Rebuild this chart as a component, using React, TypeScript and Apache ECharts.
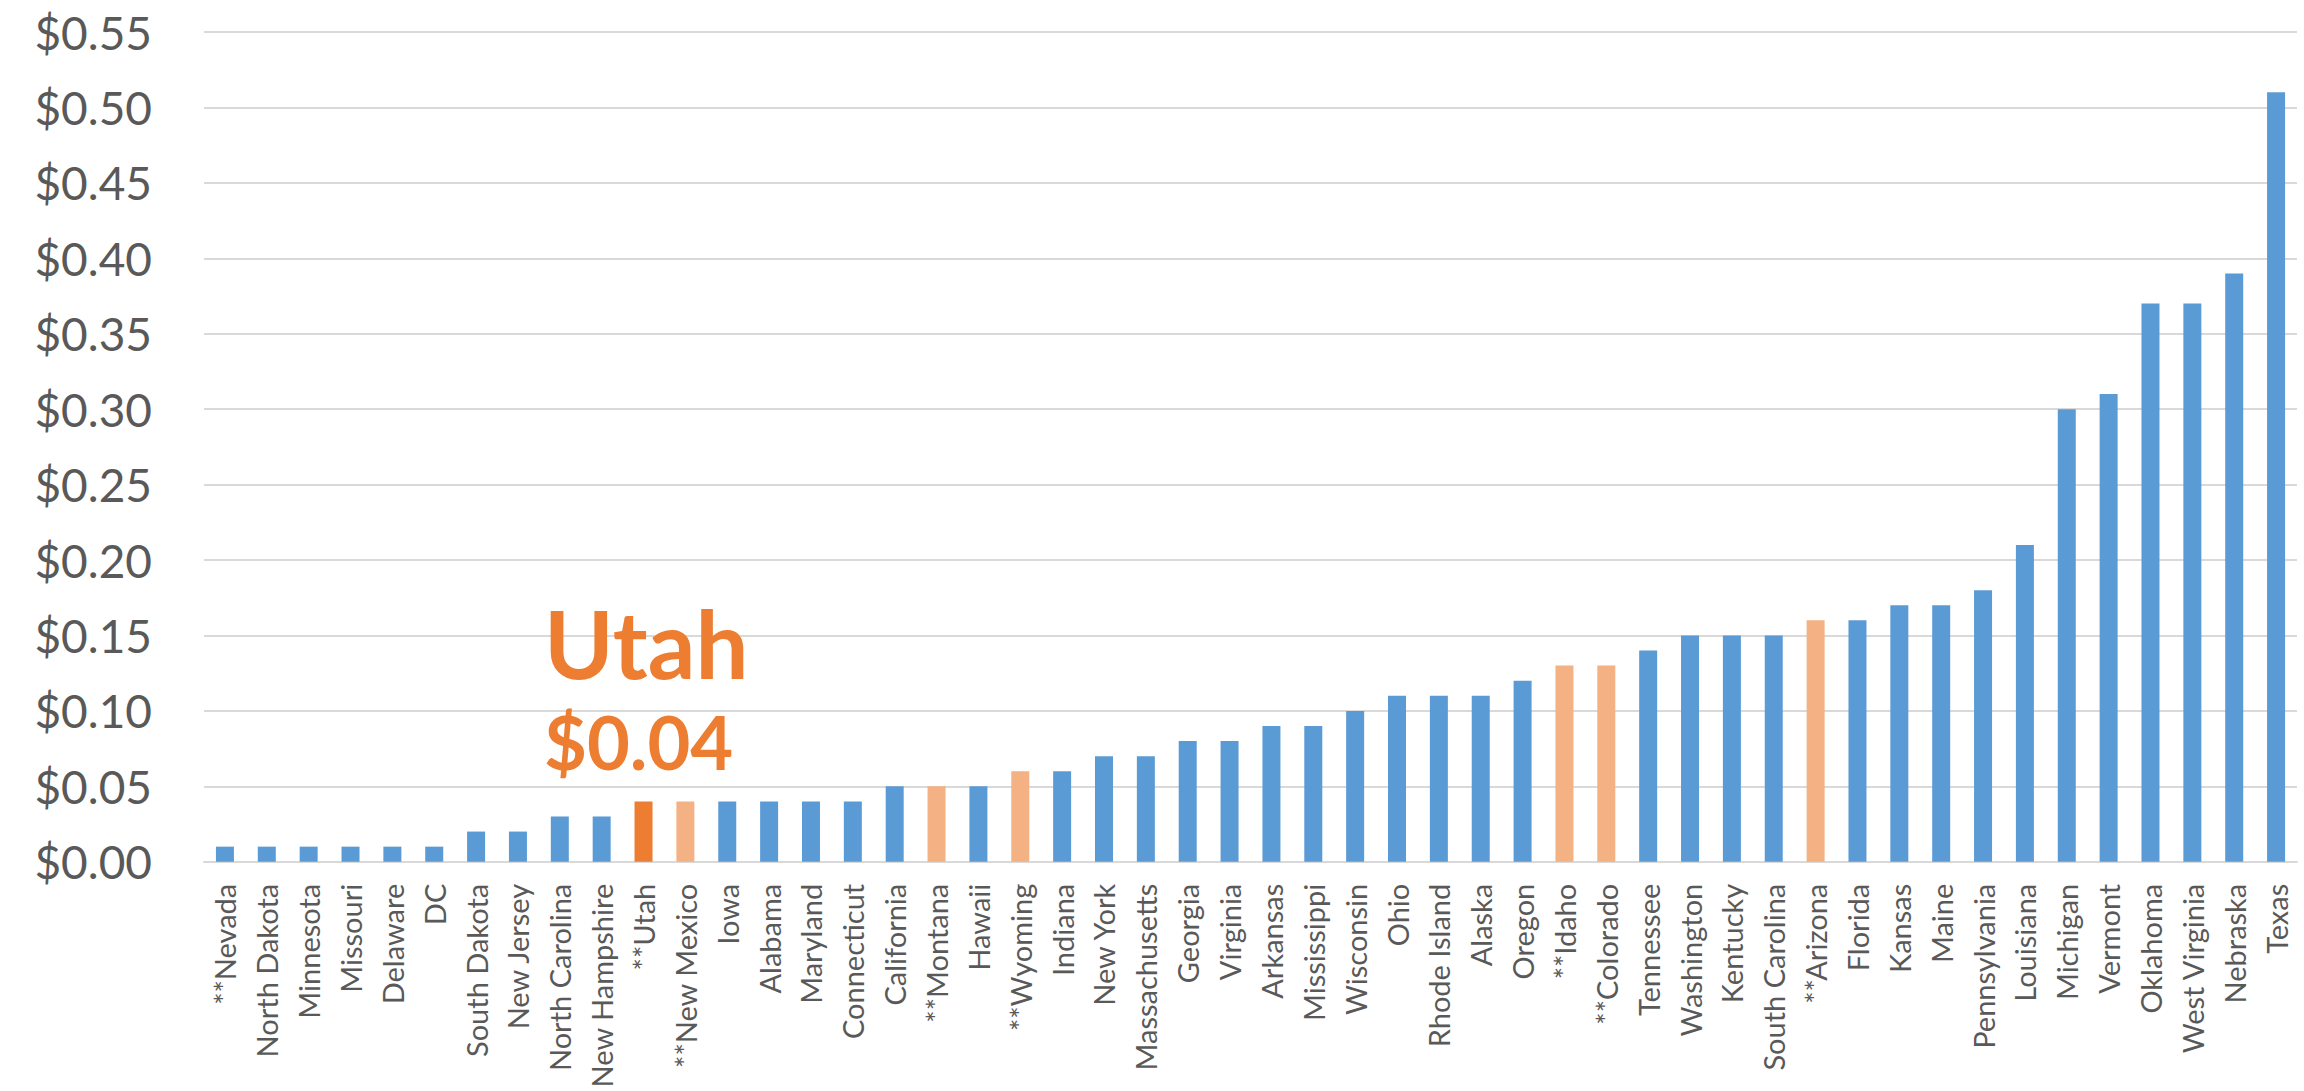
import React, { useEffect, useRef } from "react";
import * as echarts from "echarts";

const states = [
  "**Nevada", "North Dakota", "Minnesota", "Missouri", "Delaware", "DC",
  "South Dakota", "New Jersey", "North Carolina", "New Hampshire", "**Utah",
  "**New Mexico", "Iowa", "Alabama", "Maryland", "Connecticut", "California",
  "**Montana", "Hawaii", "**Wyoming", "Indiana", "New York", "Massachusetts",
  "Georgia", "Virginia", "Arkansas", "Mississippi", "Wisconsin", "Ohio",
  "Rhode Island", "Alaska", "Oregon", "**Idaho", "**Colorado", "Tennessee",
  "Washington", "Kentucky", "South Carolina", "**Arizona", "Florida", "Kansas",
  "Maine", "Pennsylvania", "Louisiana", "Michigan", "Vermont", "Oklahoma",
  "West Virginia", "Nebraska", "Texas",
];

const values = [
  0.01, 0.01, 0.01, 0.01, 0.01, 0.01,
  0.02, 0.02, 0.03, 0.03, 0.04,
  0.04, 0.04, 0.04, 0.04, 0.04, 0.05,
  0.05, 0.05, 0.06, 0.06, 0.07, 0.07,
  0.08, 0.08, 0.09, 0.09, 0.10, 0.11,
  0.11, 0.11, 0.12, 0.13, 0.13, 0.14,
  0.15, 0.15, 0.15, 0.16, 0.16, 0.17,
  0.17, 0.18, 0.21, 0.30, 0.31, 0.37,
  0.37, 0.39, 0.51,
];

const highlightState = "**Utah";
const lightStates = ["**New Mexico", "**Montana", "**Wyoming", "**Idaho", "**Colorado", "**Arizona"];

const annotationTitle = "Utah";
const annotationValue = "$0.04";

const BLUE = "#5B9BD5";
const ORANGE = "#ED7D31";
const LIGHT_ORANGE = "#F4B183";

export default function App() {
  const ref = useRef<HTMLDivElement>(null);

  useEffect(() => {
    if (!ref.current) return;
    const chart = echarts.init(ref.current, undefined, { renderer: "svg" });
    const data = values.map((v, i) => {
      const s = states[i];
      const color = s === highlightState ? ORANGE : lightStates.includes(s) ? LIGHT_ORANGE : BLUE;
      return { value: v, itemStyle: { color } };
    });
    chart.setOption({
      animation: false,
      backgroundColor: "#FFFFFF",
      grid: { left: 204, right: 7, top: 32, bottom: 228, containLabel: false },
      xAxis: {
        type: "category",
        data: states,
        axisTick: { show: false },
        axisLine: { lineStyle: { color: "#D9D9D9", width: 2 } },
        axisLabel: {
          interval: 0,
          rotate: 90,
          margin: 22,
          fontSize: 29,
          fontFamily: "Lato",
          color: "#595959",
        },
      },
      yAxis: {
        type: "value",
        min: 0,
        max: 0.55,
        interval: 0.05,
        axisLine: { show: false },
        axisTick: { show: false },
        splitLine: { lineStyle: { color: "#D9D9D9", width: 2 } },
        axisLabel: {
          margin: 52,
          fontSize: 46,
          fontFamily: "Lato",
          color: "#595959",
          formatter: (v: number) => "$" + v.toFixed(2),
        },
      },
      series: [
        {
          type: "bar",
          data,
          barWidth: 18,
        },
      ],
      graphic: [
        {
          type: "text",
          x: 544,
          y: 595,
          z: 100,
          style: {
            text: annotationTitle,
            font: "bold 94px Lato",
            fill: ORANGE,
            textVerticalAlign: "top",
          },
        },
        {
          type: "text",
          x: 544,
          y: 704,
          z: 100,
          style: {
            text: annotationValue,
            font: "bold 74px Lato",
            fill: ORANGE,
            textVerticalAlign: "top",
          },
        },
      ],
    });
    return () => chart.dispose();
  }, []);

  return (
    <div
      ref={ref}
      style={{ position: "fixed", left: 0, top: 0, width: 2304, height: 1091 }}
    />
  );
}
